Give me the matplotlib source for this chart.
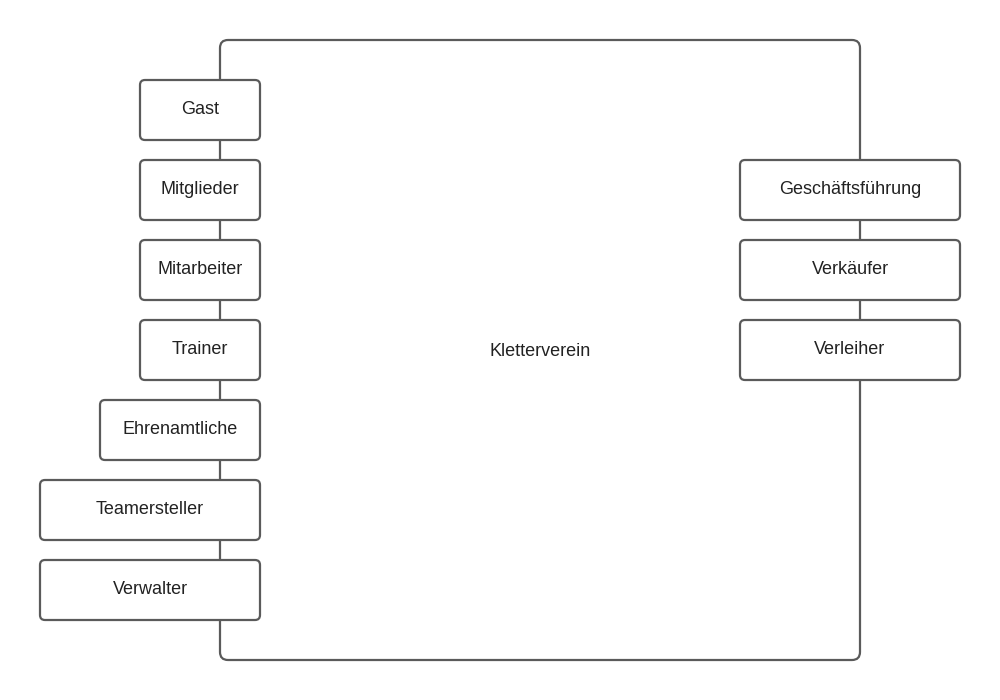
import matplotlib.pyplot as plt
from matplotlib.patches import FancyBboxPatch

# roles on the left, their box left edges differ
left_roles = ["Gast", "Mitglieder", "Mitarbeiter", "Trainer", "Ehrenamtliche", "Teamersteller", "Verwalter"]
left_x0 = [140, 140, 140, 140, 100, 40, 40]
right_roles = ["Geschäftsführung", "Verkäufer", "Verleiher"]
center_label = "Kletterverein"

edge = "#5a5a5a"
lw = 1.6
fs = 13

fig = plt.figure(figsize=(10, 7), dpi=100)
ax = fig.add_axes([0, 0, 1, 1])
ax.set_xlim(0, 1000)
ax.set_ylim(700, 0)
ax.axis("off")
plt.rcParams['font.family'] = ['Liberation Sans', 'DejaVu Sans']


def box(x0, y0, x1, y1, text=None, r=5):
    p = FancyBboxPatch((x0, y0), x1 - x0, y1 - y0,
                       boxstyle=f"round,pad=0,rounding_size={r}",
                       fc="white", ec=edge, lw=lw, zorder=2)
    ax.add_patch(p)
    if text:
        ax.text((x0 + x1) / 2, (y0 + y1) / 2, text, ha="center", va="center",
                fontsize=fs, color="#222222", zorder=3)


# main container
box(220, 40, 860, 660, r=8)
ax.text(540, 352, center_label, ha="center", va="center", fontsize=fs, color="#222222")

for i, (name, x0) in enumerate(zip(left_roles, left_x0)):
    y0 = 80 + i * 80
    box(x0, y0, 260, y0 + 60, name)

for i, name in enumerate(right_roles):
    y0 = 160 + i * 80
    box(740, y0, 960, y0 + 60, name)

fig.savefig("out.png", dpi=100)
